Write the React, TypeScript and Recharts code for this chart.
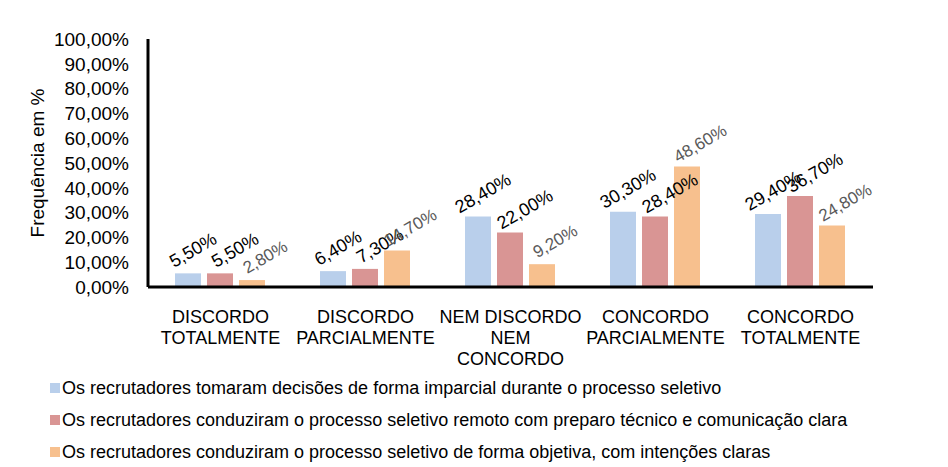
import React from 'react';
import { BarChart, Bar, XAxis, YAxis, Legend, LabelList } from 'recharts';

const categories = [
  'DISCORDO\nTOTALMENTE',
  'DISCORDO\nPARCIALMENTE',
  'NEM DISCORDO\nNEM\nCONCORDO',
  'CONCORDO\nPARCIALMENTE',
  'CONCORDO\nTOTALMENTE',
];

const imparcial = [5.5, 6.4, 28.4, 30.3, 29.4];
const preparo = [5.5, 7.3, 22.0, 28.4, 36.7];
const objetiva = [2.8, 14.7, 9.2, 48.6, 24.8];

const yTicks = [0, 10, 20, 30, 40, 50, 60, 70, 80, 90, 100];

const seriesInfo = [
  { key: 'imparcial', name: 'Os recrutadores tomaram decisões de forma imparcial durante o processo seletivo', color: '#B9CFEB', labelColor: '#000000', labelSize: 18, shift: 8 },
  { key: 'preparo', name: 'Os recrutadores conduziram o processo seletivo remoto com preparo técnico e comunicação clara', color: '#D99594', labelColor: '#000000', labelSize: 18, shift: 18 },
  { key: 'objetiva', name: 'Os recrutadores conduziram o processo seletivo de forma objetiva, com intenções claras', color: '#F7C08E', labelColor: '#595959', labelSize: 17, shift: 16 },
];

const data = categories.map((name, i) => ({
  name,
  imparcial: imparcial[i],
  preparo: preparo[i],
  objetiva: objetiva[i],
}));

const FONT = '"Liberation Sans", Arial, sans-serif';

const pct = (v: number) => `${v.toFixed(2).replace('.', ',')}%`;

// multi-line category labels under the axis
const CategoryTick = (props: any) => {
  const { x, y, payload } = props;
  const lines = String(payload.value).split('\n');
  return (
    <g>
      {lines.map((line, i) => (
        <text key={i} x={x} y={y + 28 + i * 21} textAnchor="middle" fill="#000" fontSize={18} fontFamily={FONT}>
          {line}
        </text>
      ))}
    </g>
  );
};

// rotated value labels above bars (baseline centred a little right of the bar)
const makeLabel = (color: string, size: number, shift: number) => (props: any) => {
  const { x, y, width, value } = props;
  const bx = x + width / 2 + shift;
  const by = y - 18;
  return (
    <g transform={`translate(${bx} ${by}) rotate(-30)`}>
      <text x={0} y={0} textAnchor="middle" fill={color} fontSize={size} fontFamily={FONT}>
        {pct(value)}
      </text>
    </g>
  );
};

const LegendBox = () => (
  <div style={{ fontFamily: FONT, fontSize: 18, color: '#000' }}>
    {seriesInfo.map((s) => (
      <div key={s.key} style={{ display: 'flex', alignItems: 'center', height: 32 }}>
        <span style={{ width: 10, height: 10, background: s.color, display: 'inline-block', marginRight: 2 }} />
        <span>{s.name}</span>
      </div>
    ))}
  </div>
);

export default function App() {
  return (
    <div style={{ width: 932, height: 459, fontFamily: FONT, background: '#fff' }}>
      <BarChart
        width={932}
        height={459}
        data={data}
        margin={{ top: 31, right: 67, left: 40, bottom: 0 }}
        barCategoryGap={27}
        barGap={6}
      >
        <XAxis
          dataKey="name"
          tick={<CategoryTick />}
          tickLine={false}
          axisLine={{ stroke: '#000', strokeWidth: 3 }}
          height={85}
          interval={0}
        />
        <YAxis
          domain={[0, 100]}
          ticks={yTicks}
          interval={0}
          tickFormatter={pct}
          tickLine={false}
          tickSize={8}
          tickMargin={11}
          axisLine={{ stroke: '#000', strokeWidth: 3 }}
          width={100}
          tick={{ fill: '#000', fontSize: 19, fontFamily: FONT }}
          label={{
            content: () => (
              <text
                x={29}
                y={155}
                textAnchor="middle"
                fill="#000"
                fontSize={19}
                fontFamily={FONT}
                transform="rotate(-90 29 155)"
                dy={7}
              >
                Frequência em %
              </text>
            ),
          }}
        />
        <Legend
          verticalAlign="bottom"
          content={<LegendBox />}
          wrapperStyle={{ left: 42, height: 95, width: 880 }}
        />
        {seriesInfo.map((s) => (
          <Bar key={s.key} dataKey={s.key} name={s.name} fill={s.color} isAnimationActive={false}>
            <LabelList dataKey={s.key} content={makeLabel(s.labelColor, s.labelSize, s.shift)} />
          </Bar>
        ))}
      </BarChart>
    </div>
  );
}
